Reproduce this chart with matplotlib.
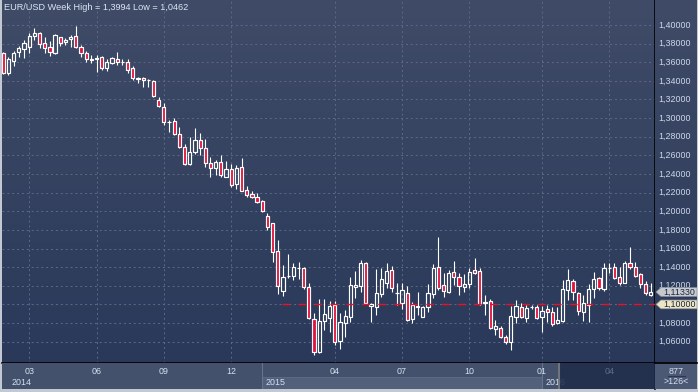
import numpy as np
import matplotlib
matplotlib.use("Agg")
import matplotlib.pyplot as plt
import matplotlib.transforms as mtransforms
from matplotlib.patches import Rectangle, Polygon
from matplotlib.colors import LinearSegmentedColormap

plt.rcParams['font.family'] = ['Liberation Sans', 'DejaVu Sans']

# weekly EUR/USD candles (126 weeks)
opens = [1.3696, 1.3481, 1.3613, 1.3707, 1.3739, 1.3760, 1.3882, 1.3911, 1.3803, 1.3760,
         1.3696, 1.3868, 1.3817, 1.3850, 1.3882, 1.3760, 1.3696, 1.3633, 1.3631, 1.3653,
         1.3541, 1.3595, 1.3638, 1.3604, 1.3606, 1.3535, 1.3429, 1.3427, 1.3411, 1.3398,
         1.3195, 1.3123, 1.2962, 1.2969, 1.2830, 1.2687, 1.2508, 1.2633, 1.2765, 1.2676,
         1.2515, 1.2461, 1.2526, 1.2371, 1.2451, 1.2293, 1.2472, 1.2229, 1.2182, 1.2150,
         1.2110, 1.1949, 1.1871, 1.1574, 1.1147, 1.1308, 1.1308, 1.1396, 1.1388, 1.1184,
         1.0840, 1.0493, 1.0826, 1.0858, 1.0994, 1.0611, 1.0797, 1.0862, 1.1184, 1.1201,
         1.1441, 1.0983, 1.0969, 1.1109, 1.1227, 1.1370, 1.1122, 1.1019, 1.1120, 1.0840,
         1.0978, 1.0868, 1.0969, 1.1109, 1.1399, 1.1209, 1.1137, 1.1345, 1.1291, 1.1190,
         1.1216, 1.1370, 1.1359, 1.1021, 1.1037, 1.0733, 1.0744, 1.0647, 1.0593, 1.0868,
         1.0969, 1.0858, 1.0967, 1.0969, 1.0868, 1.0948, 1.0915, 1.0797, 1.0826, 1.1155,
         1.1252, 1.1120, 1.0915, 1.0994, 1.1162, 1.1280, 1.1162, 1.1392, 1.1405, 1.1291,
         1.1233, 1.1448, 1.1399, 1.1327, 1.1216, 1.1101]
highs = [1.3710, 1.3656, 1.3724, 1.3777, 1.3839, 1.3917, 1.3964, 1.3928, 1.3874, 1.3831,
         1.3903, 1.3874, 1.3857, 1.3893, 1.3994, 1.3785, 1.3721, 1.3678, 1.3678, 1.3667,
         1.3635, 1.3659, 1.3707, 1.3635, 1.3631, 1.3560, 1.3445, 1.3438, 1.3417, 1.3409,
         1.3223, 1.3159, 1.2980, 1.2998, 1.2902, 1.2719, 1.2794, 1.2891, 1.2837, 1.2773,
         1.2579, 1.2550, 1.2604, 1.2540, 1.2508, 1.2497, 1.2569, 1.2275, 1.2218, 1.2193,
         1.2121, 1.1978, 1.1877, 1.1692, 1.1423, 1.1541, 1.1448, 1.1455, 1.1399, 1.1233,
         1.0905, 1.1058, 1.1058, 1.1037, 1.1037, 1.0905, 1.0940, 1.1291, 1.1362, 1.1477,
         1.1459, 1.1019, 1.1380, 1.1388, 1.1448, 1.1413, 1.1227, 1.1227, 1.1198, 1.1029,
         1.1130, 1.0983, 1.1220, 1.1434, 1.1727, 1.1334, 1.1370, 1.1466, 1.1334, 1.1327,
         1.1388, 1.1495, 1.1388, 1.1101, 1.1058, 1.0833, 1.0768, 1.0672, 1.0983, 1.1048,
         1.1012, 1.0994, 1.0994, 1.0994, 1.0983, 1.0994, 1.0976, 1.0969, 1.1262, 1.1377,
         1.1270, 1.1137, 1.1101, 1.1216, 1.1351, 1.1291, 1.1448, 1.1448, 1.1448, 1.1405,
         1.1466, 1.1620, 1.1452, 1.1341, 1.1252, 1.1227]
lows = [1.3474, 1.3463, 1.3563, 1.3659, 1.3642, 1.3702, 1.3839, 1.3750, 1.3696, 1.3667,
        1.3688, 1.3774, 1.3785, 1.3767, 1.3757, 1.3653, 1.3606, 1.3589, 1.3498, 1.3517,
        1.3509, 1.3578, 1.3570, 1.3570, 1.3481, 1.3409, 1.3374, 1.3337, 1.3337, 1.3223,
        1.3123, 1.2926, 1.2854, 1.2819, 1.2676, 1.2497, 1.2497, 1.2615, 1.2604, 1.2479,
        1.2365, 1.2390, 1.2371, 1.2365, 1.2264, 1.2239, 1.2215, 1.2156, 1.2139, 1.2092,
        1.1992, 1.1799, 1.1459, 1.1112, 1.1090, 1.1280, 1.1262, 1.1276, 1.1166, 1.0840,
        1.0462, 1.0482, 1.0726, 1.0707, 1.0564, 1.0518, 1.0654, 1.0815, 1.1066, 1.1130,
        1.1005, 1.0815, 1.0887, 1.1083, 1.1180, 1.1137, 1.0994, 1.0948, 1.0826, 1.0804,
        1.0887, 1.0862, 1.0922, 1.1069, 1.1155, 1.1083, 1.1120, 1.1209, 1.1101, 1.1137,
        1.1173, 1.1327, 1.0994, 1.0887, 1.0733, 1.0672, 1.0636, 1.0572, 1.0511, 1.0797,
        1.0851, 1.0815, 1.0948, 1.0844, 1.0707, 1.0815, 1.0768, 1.0790, 1.0815, 1.1048,
        1.1048, 1.0887, 1.0826, 1.0815, 1.1066, 1.1155, 1.1147, 1.1334, 1.1270, 1.1209,
        1.1227, 1.1380, 1.1291, 1.1173, 1.1101, 1.1090]
closes = [1.3488, 1.3631, 1.3696, 1.3750, 1.3803, 1.3882, 1.3911, 1.3792, 1.3750, 1.3707,
          1.3893, 1.3810, 1.3839, 1.3874, 1.3760, 1.3696, 1.3631, 1.3629, 1.3642, 1.3541,
          1.3606, 1.3649, 1.3599, 1.3606, 1.3517, 1.3427, 1.3425, 1.3409, 1.3407, 1.3237,
          1.3133, 1.2955, 1.2958, 1.2826, 1.2687, 1.2508, 1.2633, 1.2765, 1.2676, 1.2522,
          1.2461, 1.2526, 1.2390, 1.2451, 1.2282, 1.2461, 1.2221, 1.2175, 1.2150, 1.2103,
          1.2006, 1.1835, 1.1566, 1.1201, 1.1291, 1.1310, 1.1399, 1.1394, 1.1190, 1.0851,
          1.0493, 1.0822, 1.0897, 1.0983, 1.0600, 1.0808, 1.0876, 1.1209, 1.1209, 1.1448,
          1.1019, 1.1005, 1.1120, 1.1270, 1.1359, 1.1173, 1.1118, 1.1155, 1.0833, 1.0994,
          1.0976, 1.0969, 1.1120, 1.1388, 1.1173, 1.1147, 1.1334, 1.1298, 1.1201, 1.1219,
          1.1351, 1.1341, 1.1005, 1.1017, 1.0744, 1.0772, 1.0647, 1.0593, 1.0879, 1.0986,
          1.0868, 1.0958, 1.0971, 1.0858, 1.0930, 1.0915, 1.0790, 1.0833, 1.1162, 1.1262,
          1.1130, 1.0933, 1.1012, 1.1162, 1.1270, 1.1173, 1.1388, 1.1396, 1.1280, 1.1227,
          1.1448, 1.1405, 1.1308, 1.1216, 1.1120, 1.1133]

# month ticks (candle index) and labels
month_idx = [5, 18, 31, 44, 64, 77, 90, 104, 117]
month_lab = ['03', '06', '09', '12', '04', '07', '10', '01', '04']
year_idx = [1, 50, 104]
year_lab = ['2014', '2015', '2016']
price_ticks = [1.06, 1.08, 1.10, 1.12, 1.14, 1.16, 1.18, 1.20, 1.22, 1.24,
               1.26, 1.28, 1.30, 1.32, 1.34, 1.36, 1.38, 1.40]
level = 1.10
level_start = 53.8
title = 'EUR/USD Week High = 1,3994 Low = 1,0462'

W, H = 698, 392
fig = plt.figure(figsize=(W / 100, H / 100), dpi=100, facecolor='#c3c9d2')


def box(x0, y0, x1, y1):
    return [x0 / W, 1 - y1 / H, (x1 - x0) / W, (y1 - y0) / H]


xlim = (-0.25, 125.83)
ylim = (1.0371, 1.4268)
bg = LinearSegmentedColormap.from_list('bg', ['#3f4b67', '#2a395a'])
grad = np.linspace(0, 1, 256).reshape(-1, 1)

ax = fig.add_axes(box(2, 0, 655, 363))
ax_r = fig.add_axes(box(655, 0, 697, 363))
ax_d = fig.add_axes(box(2, 363, 655, 389))
ax_c = fig.add_axes(box(655, 363, 697, 389))

# main panel
ax.imshow(grad, cmap=bg, extent=[xlim[0], xlim[1], ylim[0], ylim[1]], aspect='auto', zorder=0)
ax.set_xlim(*xlim)
ax.set_ylim(*ylim)
ax.set_xticks(month_idx)
ax.set_yticks(price_ticks)
ax.tick_params(length=0, labelbottom=False, labelleft=False)
ax.set_axisbelow(True)
ax.grid(True, color='#5b6a86', lw=0.7, ls=(0, (2, 3)))
for s in ['top', 'left']:
    ax.spines[s].set_visible(False)
for s in ['right', 'bottom']:
    ax.spines[s].set_color('black')
    ax.spines[s].set_linewidth(1.2)

red = '#e0143c'
w = 0.62
for i in range(len(opens)):
    o, h, l, c = opens[i], highs[i], lows[i], closes[i]
    top, bot = max(o, c), min(o, c)
    ax.vlines(i, top, h, color='white', lw=0.8, zorder=3)
    ax.vlines(i, l, bot, color='white', lw=0.8, zorder=3)
    fc = red if c < o else 'none'
    ax.add_patch(Rectangle((i - w / 2, bot), w, max(top - bot, 0.0002),
                           facecolor=fc, edgecolor='white', lw=0.85, zorder=4))

ax.hlines(level, level_start, xlim[1], colors='#ee1020', lw=1.0,
          linestyles=(0, (5.5, 6)), zorder=5)
ax.text(0.003, 0.978, title, transform=ax.transAxes, va='center', ha='left',
        fontsize=6.6, color='#dde6f4', zorder=6)

# right price axis
ax_r.imshow(grad, cmap=bg, extent=[0, 1, ylim[0], ylim[1]], aspect='auto', zorder=0)
ax_r.set_xlim(0, 1)
ax_r.set_ylim(*ylim)
ax_r.axis('off')
for v in price_ticks:
    if v == level:
        continue  # fully covered by the level tag
    ax_r.text(0.08, v, f'{v:.5f}'.replace('.', ','), va='center', ha='left',
              fontsize=6.4, color='#cdd8ea', zorder=1)

tr = mtransforms.blended_transform_factory(ax_r.transAxes, ax_r.transData)
hh = 0.0047
for val, fc in [(closes[-1], '#c6cacf'), (level, '#ece6c4')]:
    ax_r.add_patch(Polygon([(0.025, val), (0.14, val + hh), (1.0, val + hh),
                            (1.0, val - hh), (0.14, val - hh)], closed=True,
                           transform=tr, facecolor=fc, edgecolor='#8c9096', lw=0.5, zorder=5))
    ax_r.text(0.19, val, f'{val:.5f}'.replace('.', ','), transform=tr, va='center',
              ha='left', fontsize=6.4, color='#1b2540', zorder=6)

# date band
ax_d.set_facecolor('#43516c')
ax_d.set_xlim(*xlim)
ax_d.set_ylim(0, 1)
ax_d.set_xticks([])
ax_d.set_yticks([])
for s in ['left', 'bottom', 'top']:
    ax_d.spines[s].set_visible(False)
ax_d.spines['right'].set_color('black')
ax_d.spines['right'].set_linewidth(1.2)
ax_d.add_patch(Rectangle((year_idx[1], 0), year_idx[2] - year_idx[1], 0.46,
                         facecolor='#52607b', edgecolor='#5f6d88', lw=0.6, zorder=1))
for b in year_idx[1:]:
    ax_d.axvline(b, color='#66748e', lw=0.8, zorder=2)

overlay_start = 107.2
for t, lab in zip(month_idx, month_lab):
    col = '#5e6f8c' if t > overlay_start else '#d4dff0'
    ax_d.text(t, 0.665, lab, ha='center', va='center', fontsize=6.4, color=col,
              zorder=6 if t > overlay_start else 2)
for b, lab in zip(year_idx, year_lab):
    ax_d.text(b + 0.6, 0.26, lab, ha='left', va='center', fontsize=6.4,
              color='#d4dff0', zorder=2)
ax_d.add_patch(Rectangle((overlay_start, 0), xlim[1] - overlay_start, 1,
                         facecolor='#1e2b49', alpha=0.85, lw=0, zorder=4))
ax_d.axvline(overlay_start, color='#70747f', lw=1.5, zorder=5)

# bottom-right counter
ax_c.set_facecolor('#4b5975')
ax_c.set_xlim(0, 1)
ax_c.set_ylim(0, 1)
ax_c.set_xticks([])
ax_c.set_yticks([])
for s in ['left', 'bottom', 'right']:
    ax_c.spines[s].set_visible(False)
ax_c.spines['top'].set_color('black')
ax_c.spines['top'].set_linewidth(1.2)
ax_c.text(0.5, 0.68, '877', ha='center', va='center', fontsize=6.4, color='#d4dff0')
ax_c.plot([0.3, 0.72], [0.5, 0.5], color='#2c3852', lw=0.8)
ax_c.text(0.5, 0.27, f'>{len(closes)}<', ha='center', va='center', fontsize=6.4,
          color='#d4dff0')

fig.savefig('out.png', dpi=100, facecolor=fig.get_facecolor())
